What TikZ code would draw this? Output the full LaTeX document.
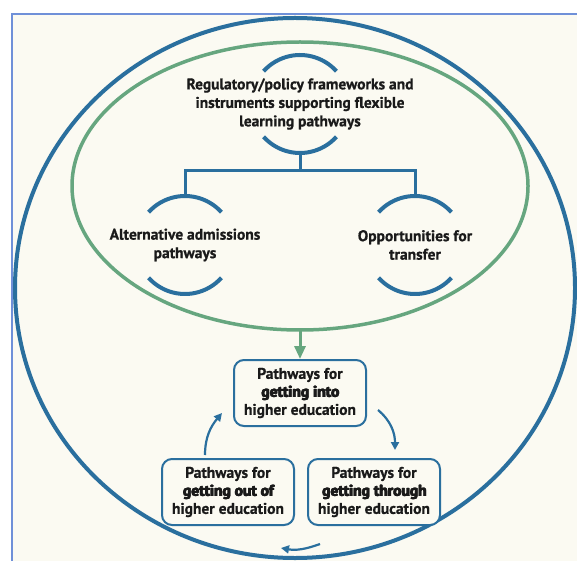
\documentclass[tikz,border=0pt]{standalone}
\usepackage{fontspec}
\setmainfont{PT Sans}[BoldFeatures={FakeBold=0.8}]
\newcommand{\heavytext}[1]{\rlap{\kern0.7pt#1}\rlap{\raisebox{0.3pt}{\kern0.35pt#1}}#1}
\usetikzlibrary{arrows.meta,calc}
\definecolor{frameblue}{HTML}{6F90D8}
\definecolor{cream}{HTML}{FBFAF2}
\definecolor{dblue}{HTML}{2A6F9E}
\definecolor{dgreen}{HTML}{66A67F}
\definecolor{ink}{HTML}{1A1A1A}
\begin{document}
\begin{tikzpicture}[x=1pt,y=1pt,
  grouptext/.style={font=\fontsize{15.5}{18.5}\selectfont\bfseries, text=ink, align=center},
  pbox/.style={draw=dblue, line width=2pt, rounded corners=10pt, fill=cream,
     minimum width=132pt, minimum height=66pt, inner sep=1pt, align=center,
     text=ink, font=\fontsize{15.5}{18}\selectfont\bfseries},
  cap arc/.style={draw=dblue, line width=4pt},
  tree/.style={draw=dblue, line width=3pt},
  flow/.style={draw=dblue, line width=2.2pt, -{Triangle[length=8pt,width=8pt]}}]
\useasboundingbox (0,0) rectangle (577,560);
\begin{scope}
\clip (0,0) rectangle (577,560);
\draw[frameblue, line width=2pt, fill=cream] (12,546) rectangle (590,-10);
\end{scope}
% outer and inner ellipses
\draw[dblue, line width=4pt] (295,272) ellipse [x radius=280, y radius=270];
\draw[dgreen, line width=3.5pt] (300,374) ellipse [x radius=228, y radius=144];
% group nodes
\node[grouptext] (T) at (300,456) {Regulatory/policy frameworks and\\instruments supporting flexible\\learning pathways};
\node[grouptext] (L) at (185,315) {Alternative admissions\\pathways};
\node[grouptext] (R) at (415,315) {Opportunities for\\transfer};
% cap arcs around each group
\foreach \g in {T,L,R}{
  \draw[cap arc] ([shift={(42:49)}]\g.center) arc[start angle=42, end angle=138, radius=49];
  \draw[cap arc] ([shift={(222:49)}]\g.center) arc[start angle=222, end angle=318, radius=49];
}
\coordinate (Tb) at ($(T.center)+(0,-49)$);
\coordinate (Lt) at ($(L.center)+(0,49)$);
\coordinate (Rt) at ($(R.center)+(0,49)$);
\coordinate (J) at (300,389);
\draw[tree] (Tb) -- (J);
\draw[tree, line join=miter] (Lt) |- (J) -| (Rt);
% boxes
\node[pbox] (BT) at (300,167) {Pathways for\\\heavytext{getting into}\\higher education};
\node[pbox] (BL) at (228,68) {Pathways for\\\heavytext{getting out of}\\higher education};
\node[pbox] (BR) at (374,68) {Pathways for\\\heavytext{getting through}\\higher education};
% green arrow
\coordinate (Gb) at (300,230);
\draw[dgreen, line width=3pt, -{Triangle[length=13pt,width=11pt]}] (Gb) -- (BT.north);
% cycle arrows
\coordinate (a1) at ($(BT.east)+(11,-17)$);
\coordinate (a2) at ($(BR.north)+(21,8)$);
\coordinate (b1) at ($(BR.south)+(-54,-18)$);
\coordinate (b2) at ($(BL.south)+(53,-22)$);
\coordinate (c1) at ($(BL.north)+(-23,3)$);
\coordinate (c2) at ($(BT.west)+(-11,-20)$);
\draw[flow] (a1) to[out=-40, in=90] (a2);
\draw[flow] (b1) to[out=200, in=-10] (b2);
\draw[flow] (c1) to[out=90, in=230] (c2);
\end{tikzpicture}
\end{document}
